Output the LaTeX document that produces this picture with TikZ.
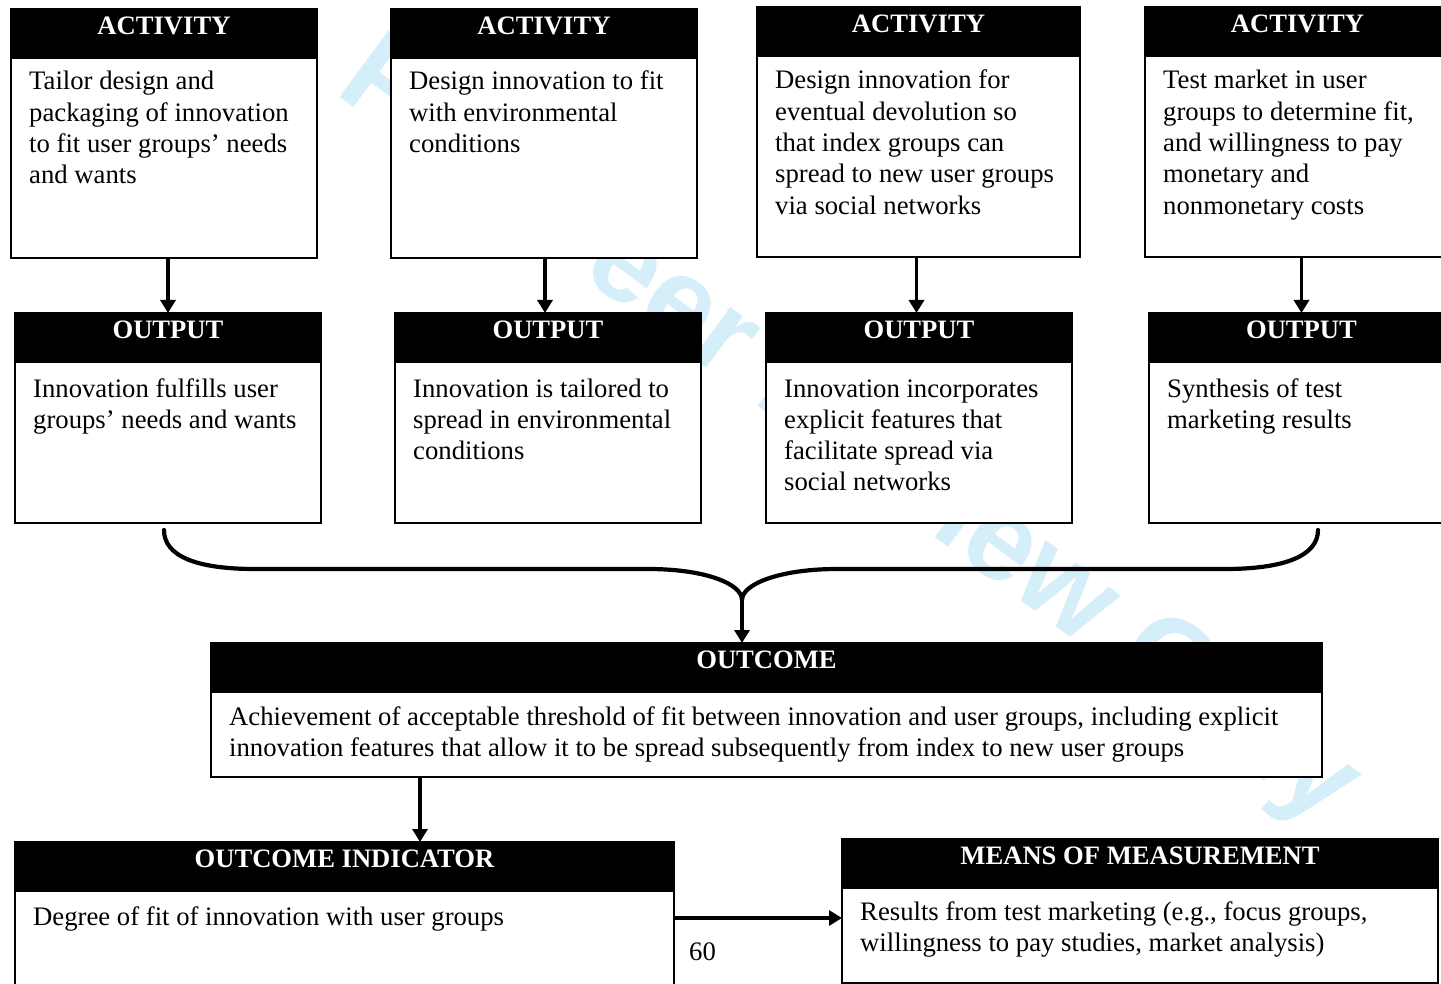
\documentclass[tikz,border=0pt]{standalone}
\usepackage{fontspec}
\setmainfont{Liberation Serif}
\newfontfamily\wmfont{Liberation Sans}
\usetikzlibrary{arrows.meta,calc}
\definecolor{wmblue}{RGB}{212,238,250}

% one framed panel: black title bar on top, text lines below
% #1 name, #2 x, #3 y, #4 width, #5 height, #6 title, #7 first baseline below top, #8 lines
\newcommand\flowpanel[8]{%
  \node[panel,minimum width=#4pt,minimum height=#5pt] (#1) at (#2,#3) {};
  \node[titlebar,minimum width=#4pt,minimum height=49pt] (#1h) at (#1.north west) {};
  \node[titletext] (#1t) at ($(#1.north)+(0,25.5)$) {#6};
  \node[linestext] (#1b) at ($(#1.north west)+(18,#7)$)
    {\parbox[t]{\dimexpr#4pt-26pt\relax}{\raggedright #8}};
}

\begin{document}
\begin{tikzpicture}[x=1pt,y=-1pt,
  panel/.style={draw=black,line width=1.3pt,fill=white,rectangle,inner sep=0pt,outer sep=0pt,anchor=north west},
  titlebar/.style={draw=black,line width=1.3pt,fill=black,rectangle,inner sep=0pt,outer sep=0pt,anchor=north west},
  titletext/.style={text=white,font=\fontsize{26.6}{30}\selectfont\bfseries,inner sep=0pt,anchor=base},
  linestext/.style={font=\fontsize{26.7}{31.3}\selectfont,inner sep=0pt,anchor=base west},
  arr/.style={line width=3.5pt,-{Triangle[width=15pt,length=13pt]}},
  brace/.style={line width=4.2pt,line cap=round},
  stamp/.style={font={\wmfont\fontsize{120}{120}\selectfont\bfseries},text=wmblue,inner sep=0pt,anchor=base west}]

\useasboundingbox (0,0) rectangle (1441,984);
\clip (0,0) rectangle (1441,984);
\fill[white] (0,0) rectangle (1441,984);

% background stamp
\node[stamp,rotate=-36.5] (stamp) at (333,92) {For Peer Review Only};

% activities
\flowpanel{a1}{11}{9}{306}{249}{ACTIVITY}{81}{Tailor design and\\packaging of innovation\\to fit user groups’ needs\\and wants}
\flowpanel{a2}{391}{9}{306}{249}{ACTIVITY}{81}{Design innovation to fit\\with environmental\\conditions}
\flowpanel{a3}{757}{7}{323}{250}{ACTIVITY}{82}{Design innovation for\\eventual devolution so\\that index groups can\\spread to new user groups\\via social networks}
\flowpanel{a4}{1145}{7}{305}{250}{ACTIVITY}{82}{Test market in user\\groups to determine fit,\\and willingness to pay\\monetary and\\nonmonetary costs}

% outputs
\flowpanel{o1}{15}{313}{306}{210}{OUTPUT}{84}{Innovation fulfills user\\groups’ needs and wants}
\flowpanel{o2}{395}{313}{306}{210}{OUTPUT}{84}{Innovation is tailored to\\spread in environmental\\conditions}
\flowpanel{o3}{766}{313}{306}{210}{OUTPUT}{84}{Innovation incorporates\\explicit features that\\facilitate spread via\\social networks}
\flowpanel{o4}{1149}{313}{305}{210}{OUTPUT}{84}{Synthesis of test\\marketing results}

% outcome, indicator, measurement
\flowpanel{outcome}{211}{643}{1111}{134}{OUTCOME}{82}{Achievement of acceptable threshold of fit between innovation and user groups, including explicit\\innovation features that allow it to be spread subsequently from index to new user groups}
\flowpanel{ind}{15}{842}{659}{170}{OUTCOME INDICATOR}{83}{Degree of fit of innovation with user groups}
\flowpanel{mm}{842}{839}{596}{144}{MEANS OF MEASUREMENT}{81}{Results from test marketing (e.g., focus groups,\\willingness to pay studies, market analysis)}

\node[linestext] (pagenum) at (689,960) {60};

% activity -> output
\draw[arr] (a1.south -| o1.north) -- (o1.north);
\draw[arr] ($(a2.south)+(1,0)$) coordinate (a2s) -- (a2s |- o2.north);
\draw[arr] ($(a3.south)+(-2,0)$) coordinate (a3s) -- (a3s |- o3.north);
\draw[arr] (a4.south -| o4.north) -- (o4.north);

% outputs merge into the outcome
\coordinate (bl) at (164,530);
\coordinate (br) at (1318,530);
\coordinate (bj) at (742,600);
\draw[brace] (bl) .. controls (164,556) and (196,569) .. (255,569) -- (648,569) .. controls (706,569) and (742,584) .. (bj);
\draw[brace] (br) .. controls (1318,556) and (1284,569) .. (1225,569) -- (837,569) .. controls (780,569) and (742,584) .. (bj);
\draw[arr] (bj) -- (bj |- outcome.north);

% outcome -> indicator -> measurement
\draw[arr] ($(outcome.south west)+(209,0)$) coordinate (os) -- (os |- ind.north);
\draw[arr] ($(ind.north east)+(0,76)$) coordinate (ie) -- (ie -| mm.west);
\end{tikzpicture}
\end{document}
